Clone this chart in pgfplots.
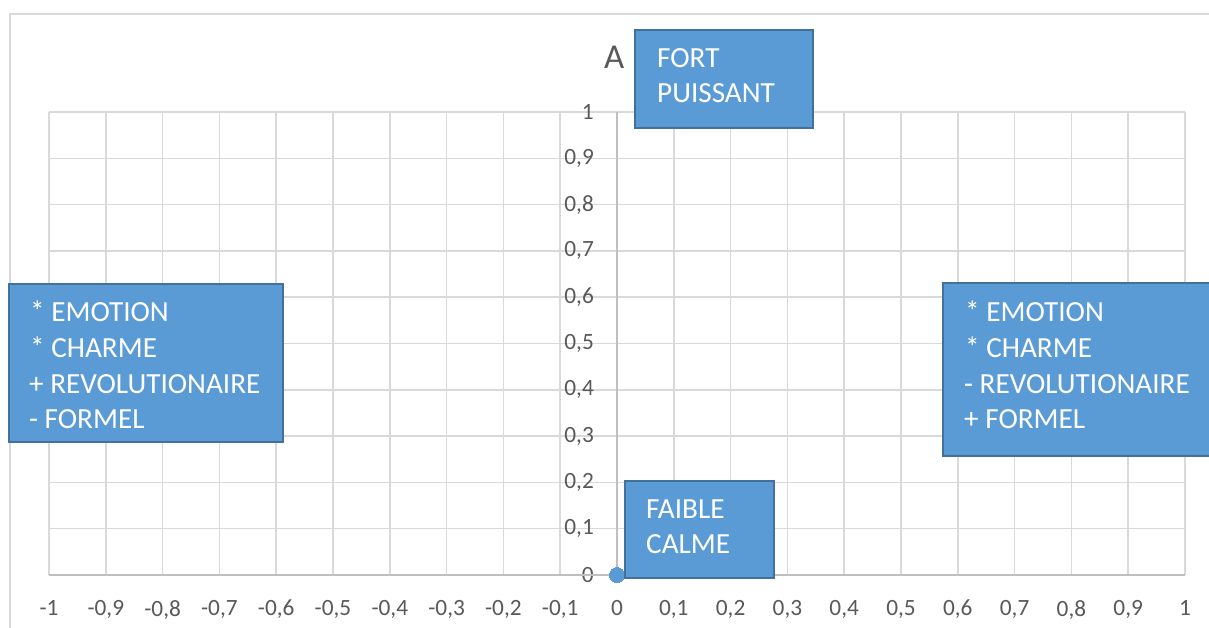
\documentclass[border=0pt]{standalone}
\usepackage{fontspec}
\setmainfont{Carlito}
\usepackage{pgfplots}
\pgfplotsset{compat=1.18}
\definecolor{gridc}{HTML}{D9D9D9}
\definecolor{axc}{HTML}{BFBFBF}
\definecolor{txt}{HTML}{595959}
\definecolor{boxfill}{HTML}{5B9BD5}
\definecolor{boxdraw}{HTML}{41719C}
\newcommand{\bfnt}{\fontsize{29.3}{35}\selectfont}
\begin{document}
\begin{tikzpicture}
\useasboundingbox (0,0) rectangle (1209bp,628bp);
\clip (0,0) rectangle (1209bp,628bp);
\fill[white] (0,0) rectangle (1209bp,628bp);
\draw[gridc, line width=2.5bp] (10bp,614bp) rectangle (1300bp,-100bp);
\begin{axis}[
  at={(49bp,53bp)}, anchor=south west,
  scale only axis, width=1136bp, height=463bp,
  xmin=-1, xmax=1, ymin=0, ymax=1,
  axis x line=bottom, axis y line=left,
  x axis line style={axc, line width=1.5bp, -},
  y axis line style={gridc, line width=1.5bp, -},
  xtick={-1,-0.9,-0.8,-0.7,-0.6,-0.5,-0.4,-0.3,-0.2,-0.1,0,0.1,0.2,0.3,0.4,0.5,0.6,0.7,0.8,0.9,1},
  ytick={0,0.1,0.2,0.3,0.4,0.5,0.6,0.7,0.8,0.9,1},
  grid=major,
  grid style={gridc, line width=1.5bp},
  major tick length=0pt,
  tick style={draw=none},
  tick label style={font=\fontsize{23.4}{28}\selectfont, text=txt, inner sep=0pt},
  xticklabel style={anchor=north, yshift=-25bp},
  yticklabel style={anchor=east, xshift=545bp},
  /pgf/number format/use comma,
  /pgf/number format/fixed,
  /pgf/number format/assume math mode=true,
  clip=false,
]
\draw[axc, line width=1.5bp] (axis cs:0,0) -- (axis cs:0,1);
\draw[axc, line width=1.5bp] (axis cs:-1,0) -- (axis cs:1,0);
\addplot[only marks, mark=*, mark size=7.5bp, mark options={fill=boxfill, draw=boxfill, line width=0pt}] coordinates {(0,0)};
\end{axis}
% Top box
\draw[fill=boxfill, draw=boxdraw, line width=2bp] (635bp,598bp) rectangle (813bp,500bp);
\node[anchor=base west, inner sep=0pt, text=white, font=\bfnt] at (657bp,560bp) {FORT};
\node[anchor=base west, inner sep=0pt, text=white, font=\bfnt] at (657bp,525bp) {PUISSANT};
\node[anchor=base west, inner sep=0pt, text=txt, font=\fontsize{35}{42}\selectfont] at (604bp,559bp) {A};
% Left box
\draw[fill=boxfill, draw=boxdraw, line width=2bp] (9bp,344bp) rectangle (283bp,186bp);
\node[anchor=base west, inner sep=0pt, text=white, font=\bfnt] at (30bp,306bp) {* EMOTION};
\node[anchor=base west, inner sep=0pt, text=white, font=\bfnt] at (30bp,270bp) {* CHARME};
\node[anchor=base west, inner sep=0pt, text=white, font=\bfnt] at (29bp,234bp) {+ REVOLUTIONAIRE};
\node[anchor=base west, inner sep=0pt, text=white, font=\bfnt] at (29bp,199bp) {- FORMEL};
% Right box
\draw[fill=boxfill, draw=boxdraw, line width=2bp] (943bp,345bp) rectangle (1240bp,172bp);
\node[anchor=base west, inner sep=0pt, text=white, font=\bfnt] at (965bp,306bp) {* EMOTION};
\node[anchor=base west, inner sep=0pt, text=white, font=\bfnt] at (965bp,270bp) {* CHARME};
\node[anchor=base west, inner sep=0pt, text=white, font=\bfnt] at (964bp,234bp) {- REVOLUTIONAIRE};
\node[anchor=base west, inner sep=0pt, text=white, font=\bfnt] at (964bp,199bp) {+ FORMEL};
% Bottom box
\draw[fill=boxfill, draw=boxdraw, line width=2bp] (625bp,147bp) rectangle (774bp,50bp);
\node[anchor=base west, inner sep=0pt, text=white, font=\bfnt] at (646bp,109bp) {FAIBLE};
\node[anchor=base west, inner sep=0pt, text=white, font=\bfnt] at (646bp,74bp) {CALME};
\end{tikzpicture}
\end{document}
